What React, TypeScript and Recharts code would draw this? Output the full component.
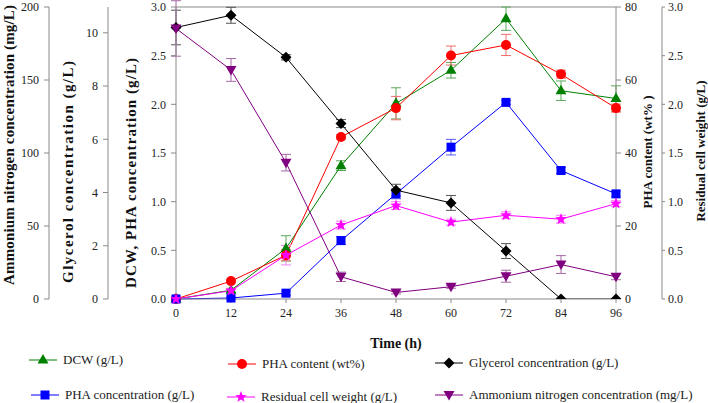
import React from 'react'
import { LineChart, Line, XAxis, YAxis, ErrorBar, ReferenceLine } from 'recharts'

// sampling times (h)
const times = [0, 12, 24, 36, 48, 60, 72, 84, 96]

// values
const dcw = [0, 0.09, 0.52, 1.37, 2.01, 2.35, 2.88, 2.14, 2.06]
const dcwErr = [0, 0.02, 0.13, 0.05, 0.16, 0.08, 0.12, 0.1, 0.13]
const phaContent = [0, 4.9, 12.0, 44.4, 52.3, 66.7, 69.6, 61.6, 52.3]
const phaContentErr = [0, 0.5, 1.5, 0.6, 3.2, 2.6, 2.9, 1.1, 1.1]
const glycerol = [10.2, 10.66, 9.08, 6.59, 4.09, 3.61, 1.8, 0, 0]
const glycerolErr = [0.65, 0.3, 0.1, 0.15, 0.22, 0.28, 0.28, 0, 0]
const phaConc = [0, 0.01, 0.06, 0.6, 1.08, 1.56, 2.02, 1.32, 1.08]
const phaConcErr = [0, 0.01, 0.02, 0.04, 0.05, 0.08, 0.02, 0.03, 0.03]
const residual = [0, 0.085, 0.45, 0.76, 0.96, 0.79, 0.86, 0.82, 0.98]
const residualErr = [0, 0.02, 0.1, 0.04, 0.04, 0.03, 0.035, 0.04, 0.03]
const ammonium = [185.3, 156.9, 93.4, 15.2, 4.5, 8.4, 15.6, 23.6, 15.2]
const ammoniumErr = [19, 7.8, 5.7, 3.2, 1, 1, 4.1, 6.1, 2]

// axis ticks
const dcwTicks = [0, 0.5, 1, 1.5, 2, 2.5, 3]
const glycerolTicks = [0, 2, 4, 6, 8, 10]
const ammoniumTicks = [0, 50, 100, 150, 200]
const phaContentTicks = [0, 20, 40, 60, 80]
const residualTicks = [0, 0.5, 1, 1.5, 2, 2.5, 3]

const chartData = times.map((t, i) => ({
  time: t,
  dcw: dcw[i],
  dcwErr: dcwErr[i],
  phaContent: phaContent[i],
  phaContentErr: phaContentErr[i],
  glycerol: glycerol[i],
  glycerolErr: glycerolErr[i],
  phaConc: phaConc[i],
  phaConcErr: phaConcErr[i],
  residual: residual[i],
  residualErr: residualErr[i],
  ammonium: ammonium[i],
  ammoniumErr: ammoniumErr[i],
}))

type Shape = 'triangle' | 'circle' | 'square' | 'star' | 'diamond' | 'down'

interface Series {
  key: string
  name: string
  axis: string
  color: string
  errColor: string
  shape: Shape
}

// axis ids sort in the order the axes sit outward from the plot
const AX_DCW = 'a_dcw'
const AX_GLY = 'b_gly'
const AX_AMM = 'c_amm'
const AX_PHA = 'd_pha'
const AX_RES = 'e_res'

// drawing order: later ones sit on top
const seriesList: Series[] = [
  { key: 'dcw', name: 'DCW (g/L)', axis: AX_DCW, color: '#008000', errColor: '#5aa95a', shape: 'triangle' },
  { key: 'phaContent', name: 'PHA content (wt%)', axis: AX_PHA, color: '#ff0000', errColor: '#f07070', shape: 'circle' },
  { key: 'phaConc', name: 'PHA concentration (g/L)', axis: AX_DCW, color: '#0000ff', errColor: '#5a5af0', shape: 'square' },
  { key: 'residual', name: 'Residual cell weight (g/L)', axis: AX_RES, color: '#ff00ff', errColor: '#f080f0', shape: 'star' },
  { key: 'glycerol', name: 'Glycerol concentration (g/L)', axis: AX_GLY, color: '#000000', errColor: '#555555', shape: 'diamond' },
  { key: 'ammonium', name: 'Ammonium nitrogen concentration (mg/L)', axis: AX_AMM, color: '#800080', errColor: '#a467a4', shape: 'down' },
]

// legend: two rows of three
const legendOrder = ['dcw', 'phaContent', 'glycerol', 'phaConc', 'residual', 'ammonium']
const legendSlots = [
  { x: 29, y: 360 },
  { x: 228, y: 364 },
  { x: 435, y: 363 },
  { x: 31, y: 395 },
  { x: 227, y: 397 },
  { x: 435, y: 395 },
]

const FONT = '"Liberation Serif", "Times New Roman", serif'
const AXIS = '#8a8a8a'
const tickStyle = { fontSize: 12, fill: '#222', fontFamily: FONT }

function starPoints(cx: number, cy: number, ro: number, ri: number) {
  const pts: string[] = []
  for (let k = 0; k < 10; k++) {
    const r = k % 2 === 0 ? ro : ri
    const a = -Math.PI / 2 + (k * Math.PI) / 5
    pts.push(`${cx + r * Math.cos(a)},${cy + r * Math.sin(a)}`)
  }
  return pts.join(' ')
}

function Marker(props: { cx?: number; cy?: number; shape: Shape; color: string }) {
  const { cx, cy, shape, color } = props
  if (cx == null || cy == null || isNaN(cx) || isNaN(cy)) return null
  switch (shape) {
    case 'triangle':
      return <polygon points={`${cx},${cy - 6} ${cx - 5.5},${cy + 3.5} ${cx + 5.5},${cy + 3.5}`} fill={color} />
    case 'down':
      return <polygon points={`${cx - 5.5},${cy - 4} ${cx + 5.5},${cy - 4} ${cx},${cy + 5.5}`} fill={color} />
    case 'circle':
      return <circle cx={cx} cy={cy} r={5} fill={color} />
    case 'square':
      return <rect x={cx - 4.5} y={cy - 4.5} width={9} height={9} fill={color} />
    case 'diamond':
      return <polygon points={`${cx},${cy - 5.5} ${cx + 5.5},${cy} ${cx},${cy + 5.5} ${cx - 5.5},${cy}`} fill={color} />
    case 'star':
      return <polygon points={starPoints(cx, cy, 6, 2.6)} fill={color} />
  }
  return null
}

function yTitle(text: string, dx: number, dy: number, size: number, length?: number) {
  return (props: any) => {
    const vb = props.viewBox
    if (!vb) return null
    const x = vb.x + dx
    const y = vb.y + vb.height / 2 + dy
    return (
      <text
        x={x}
        y={y}
        transform={`rotate(-90 ${x} ${y})`}
        textAnchor="middle"
        dominantBaseline="central"
        fontFamily={FONT}
        fontWeight="bold"
        fontSize={size}
        fill="#111"
        textLength={length}
        lengthAdjust={length ? 'spacing' : undefined}
      >
        {text}
      </text>
    )
  }
}

function timeTitle(props: any) {
  const vb = props.viewBox
  if (!vb) return null
  return (
    <text
      x={vb.x + vb.width / 2}
      y={vb.y + 44}
      textAnchor="middle"
      dominantBaseline="central"
      fontFamily={FONT}
      fontWeight="bold"
      fontSize={14}
      fill="#111"
    >
      Time  (h)
    </text>
  )
}

function LegendBlock() {
  return (
    <>
      {legendOrder.map((key, i) => {
        const s = seriesList.find((d) => d.key === key)!
        const slot = legendSlots[i]
        return (
          <div
            key={key}
            style={{
              position: 'absolute',
              left: slot.x,
              top: slot.y - 8,
              height: 16,
              display: 'flex',
              alignItems: 'center',
              whiteSpace: 'nowrap',
              fontFamily: FONT,
              fontSize: 13,
              color: '#222',
            }}
          >
            <svg width={28} height={16} style={{ display: 'block' }}>
              <line x1={0} y1={8} x2={28} y2={8} stroke={s.color} strokeWidth={1} />
              <Marker cx={14} cy={8} shape={s.shape} color={s.color} />
            </svg>
            <span style={{ marginLeft: 6 }}>{s.name}</span>
          </div>
        )
      })}
    </>
  )
}

export default function App() {
  return (
    <div style={{ position: 'absolute', left: 0, top: 0, width: 708, height: 403, background: '#fff' }}>
      <LineChart width={708} height={403} data={chartData} margin={{ top: 7, right: 0, left: 0, bottom: 44 }}>
        <XAxis
          dataKey="time"
          type="number"
          domain={[0, 96]}
          ticks={times}
          interval={0}
          stroke={AXIS}
          tick={tickStyle}
          tickSize={4}
          tickMargin={5}
          height={60}
          label={timeTitle}
        />
        <YAxis
          yAxisId={AX_DCW}
          orientation="left"
          width={68}
          domain={[0, 3]}
          ticks={dcwTicks}
          interval={0}
          tickFormatter={(v: number) => v.toFixed(1)}
          stroke={AXIS}
          tick={tickStyle}
          tickSize={5}
          tickMargin={5}
          label={yTitle('DCW, PHA concentration (g/L)', 23, 20, 15, 230)}
        />
        <YAxis
          yAxisId={AX_GLY}
          orientation="left"
          width={59}
          domain={[0, 10.97]}
          allowDataOverflow
          ticks={glycerolTicks}
          interval={0}
          stroke={AXIS}
          tick={tickStyle}
          tickSize={5}
          tickMargin={5}
          label={yTitle('Glycerol concentration (g/L)', 19, 19, 15, 222)}
        />
        <YAxis
          yAxisId={AX_AMM}
          orientation="left"
          width={49}
          domain={[0, 200]}
          allowDataOverflow
          ticks={ammoniumTicks}
          interval={0}
          stroke={AXIS}
          tick={tickStyle}
          tickSize={5}
          tickMargin={5}
          label={yTitle('Ammonium nitrogen concentration (mg/L)', 9, -8, 15, 280)}
        />
        <YAxis
          yAxisId={AX_PHA}
          orientation="right"
          width={46}
          domain={[0, 80]}
          ticks={phaContentTicks}
          interval={0}
          stroke={AXIS}
          tick={tickStyle}
          tickSize={5}
          tickMargin={4}
          label={yTitle('PHA content (wt% )', 31, -1, 13)}
        />
        <YAxis
          yAxisId={AX_RES}
          orientation="right"
          width={46}
          domain={[0, 3]}
          ticks={residualTicks}
          interval={0}
          tickFormatter={(v: number) => v.toFixed(1)}
          stroke={AXIS}
          tick={tickStyle}
          tickSize={3}
          tickMargin={3}
          label={yTitle('Residual cell weight (g/L)', 38, -2, 13)}
        />

        {/* frame top edge */}
        <ReferenceLine yAxisId={AX_DCW} y={3} stroke={AXIS} strokeWidth={1} />

        {seriesList.map((s) => (
          <Line
            key={s.key}
            yAxisId={s.axis}
            dataKey={s.key}
            name={s.name}
            type="linear"
            stroke={s.color}
            strokeWidth={1}
            dot={<Marker shape={s.shape} color={s.color} />}
            activeDot={false}
            isAnimationActive={false}
          >
            <ErrorBar dataKey={`${s.key}Err`} width={5} stroke={s.errColor} strokeWidth={1} />
          </Line>
        ))}
      </LineChart>
      <LegendBlock />
    </div>
  )
}
